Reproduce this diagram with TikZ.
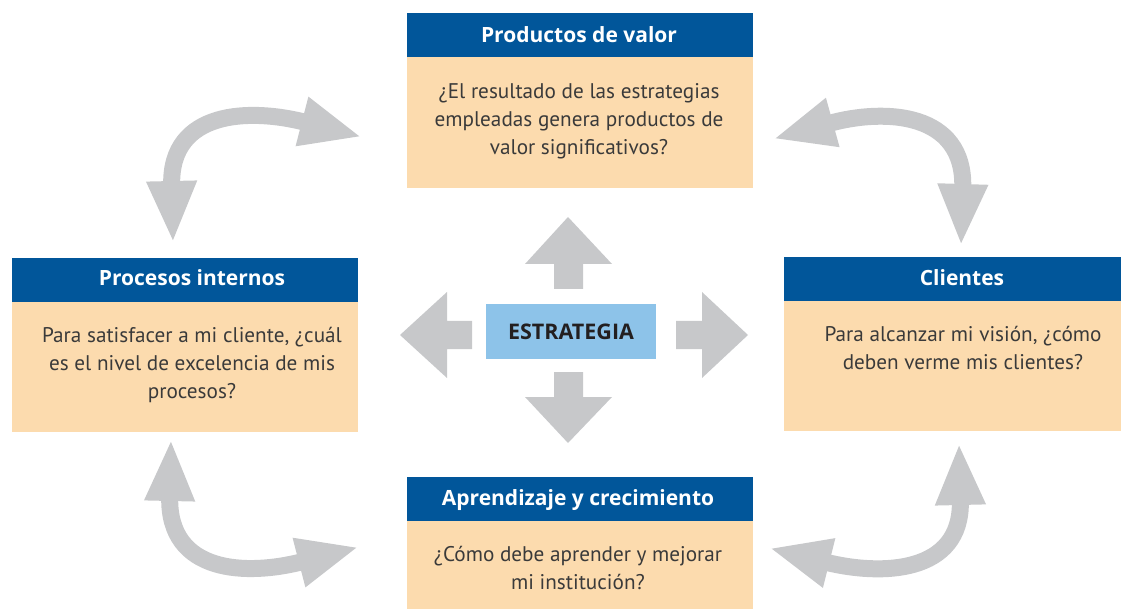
\documentclass[tikz,border=0pt]{standalone}
\usepackage{fontspec}
\setmainfont{PT Sans}
\newfontfamily\hdrfont{Open Sans}
\usetikzlibrary{arrows.meta}
\definecolor{hblue}{HTML}{01569A}
\definecolor{peach}{HTML}{FCDBAE}
\definecolor{agrey}{HTML}{C7C8CA}
\definecolor{lblue}{HTML}{8DC3E9}
\definecolor{txt}{HTML}{3A3A3A}
\definecolor{dtxt}{HTML}{231F20}
\tikzset{
  hdrbox/.style={fill=hblue, draw=none, inner sep=0pt, anchor=north west, minimum width=346pt, minimum height=44pt},
  bodybox/.style={fill=peach, draw=none, inner sep=0pt, anchor=north west, minimum width=346pt},
  hdrtext/.style={text=white, inner sep=0pt, anchor=base, font=\hdrfont\fontsize{21}{25}\selectfont\bfseries},
  bodytext/.style={text=txt, inner sep=0pt, anchor=north, align=center, font=\fontsize{21.2}{28}\selectfont},
  curv/.style={draw=agrey, line width=17pt, {Triangle[length=62pt,width=46pt]}-{Triangle[length=62pt,width=46pt]}},
  blockarrow/.style={fill=agrey, draw=none}
}
\begin{document}
\begin{tikzpicture}[x=1pt,y=-1pt]
\useasboundingbox (0,0) rectangle (1121,609);
% boxes
\node[hdrbox] (pvH) at (407,13) {};
\node[bodybox, minimum height=131pt] (pvB) at (407,57) {};
\node[hdrbox] (piH) at (12,258) {};
\node[bodybox, minimum height=130pt] (piB) at (12,302) {};
\node[hdrbox, minimum width=337pt] (clH) at (784,257) {};
\node[bodybox, minimum width=337pt, minimum height=130pt] (clB) at (784,301) {};
\node[hdrbox] (apH) at (407,477) {};
\node[bodybox, minimum height=88pt] (apB) at (407,521) {};
% texts
\node[hdrtext] (pvT) at (579,43) {Productos de valor};
\node[bodytext] (pvQ) at (579,79) {\strut ¿El resultado de las estrategias\\empleadas genera productos de\\valor significativos?};
\node[hdrtext] (piT) at (192,286) {Procesos internos};
\node[bodytext] (piQ) at (192,323) {\strut Para satisfacer a mi cliente, ¿cuál\\es el nivel de excelencia de mis\\procesos?};
\node[hdrtext] (clT) at (962,286) {Clientes};
\node[bodytext] (clQ) at (963,322) {\strut Para alcanzar mi visión, ¿cómo\\deben verme mis clientes?};
\node[hdrtext] (apT) at (578,505) {Aprendizaje y crecimiento};
\node[bodytext] (apQ) at (578,542) {\strut ¿Cómo debe aprender y mejorar\\mi institución?};
% center
\node[fill=lblue, minimum width=170pt, minimum height=55pt, inner sep=0pt, font=\hdrfont\fontsize{21.5}{24}\selectfont\bfseries, text=dtxt] (est) at (571,331.5) {ESTRATEGIA};
% block arrows
\fill[blockarrow] (554,289) -- (554,264) -- (525,264) -- (568,217) -- (612,264) -- (583,264) -- (583,289) -- cycle;
\fill[blockarrow] (472,321) -- (447,321) -- (447,292) -- (400,335) -- (447,378) -- (447,349) -- (472,349) -- cycle;
\fill[blockarrow] (676,321) -- (702,321) -- (702,292) -- (748,335) -- (702,378) -- (702,349) -- (676,349) -- cycle;
\fill[blockarrow] (554,372) -- (583,372) -- (583,397) -- (612,397) -- (568,443) -- (525,397) -- (554,397) -- cycle;
% curved arrows
\coordinate (tl1) at (362,137); \coordinate (tl2) at (173,243);
\coordinate (tr1) at (773,139); \coordinate (tr2) at (961,246);
\coordinate (bl1) at (359,547); \coordinate (bl2) at (171,439);
\coordinate (br1) at (769,548); \coordinate (br2) at (959,443);
\draw[curv] (tl1) .. controls (250,108) and (170,110) .. (tl2);
\draw[curv] (tr1) .. controls (885,108) and (965,112) .. (tr2);
\draw[curv] (bl1) .. controls (247,576) and (168,574) .. (bl2);
\draw[curv] (br1) .. controls (881,576) and (962,574) .. (br2);
\end{tikzpicture}
\end{document}
